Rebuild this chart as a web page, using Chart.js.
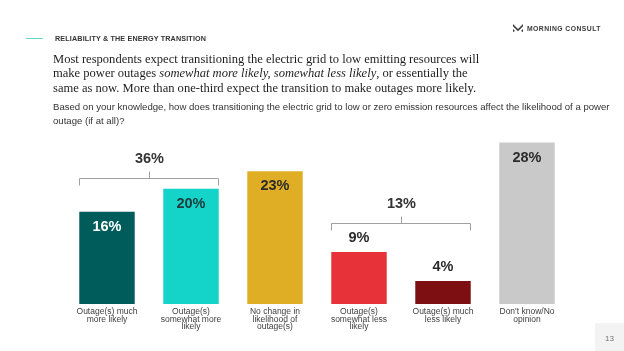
<!DOCTYPE html>
<html>
<head>
<meta charset="utf-8">
<script src="https://cdn.jsdelivr.net/npm/chart.js@4"></script>
<style>
  html, body { margin: 0; padding: 0; background: #fff; }
  #page { position: relative; width: 624px; height: 351px; overflow: hidden; font-family: "Liberation Sans", Arial, sans-serif; }
  #chart { position: absolute; left: 0; top: 0; }
  .rule { position: absolute; left: 26px; top: 38px; width: 17px; height: 1px; background: #5fd6d0; }
  .section { position: absolute; left: 55px; top: 34px; font-size: 7.2px; font-weight: bold; color: #333; letter-spacing: 0.15px; }
  .logo { position: absolute; left: 513px; top: 24px; font-size: 6.8px; font-weight: bold; color: #3a3a3a; letter-spacing: 0.45px; display: flex; align-items: center; }
  .logo svg { margin-right: 4px; }
  .title { position: absolute; left: 53px; top: 52px; font-family: "Liberation Serif", serif; font-size: 12.55px; line-height: 14.4px; color: #1e1e1e; white-space: nowrap; }
  .subtitle { position: absolute; left: 53px; top: 100px; font-size: 9.6px; line-height: 14.4px; color: #333; width: 566px; }
  .pagebox { position: absolute; left: 595px; top: 323px; width: 29px; height: 28px; background: #f3f3f3; color: #777; font-size: 8px; text-align: center; line-height: 32px; }
</style>
</head>
<body>
<div id="page">
  <canvas id="chart" width="624" height="351"></canvas>
  <div class="rule"></div>
  <div class="section">RELIABILITY &amp; THE ENERGY TRANSITION</div>
  <div class="logo"><svg width="10" height="8" viewBox="0 0 10 8"><path d="M0 0 L5 5 L10 0 L10 2.2 L5 7.2 L0 2.2 Z M0 5 L2 7 L0 8 Z M10 5 L8 7 L10 8 Z" fill="#3a3a3a"/></svg>MORNING CONSULT</div>
  <div class="title">Most respondents expect transitioning the electric grid to low emitting resources will<br>make power outages <i>somewhat more likely, somewhat less likely</i>, or essentially the<br>same as now. More than one-third expect the transition to make outages more likely.</div>
  <div class="subtitle">Based on your knowledge, how does transitioning the electric grid to low or zero emission resources affect the likelihood of a power outage (if at all)?</div>
  <div class="pagebox">13</div>
</div>
<script>
let chart = null;

const categories = [
    ["Outage(s) much", "more likely"],
    ["Outage(s)", "somewhat more", "likely"],
    ["No change in", "likelihood of", "outage(s)"],
    ["Outage(s)", "somewhat less", "likely"],
    ["Outage(s) much", "less likely"],
    ["Don't know/No", "opinion"],
];
const values = [16, 20, 23, 9, 4, 28];
const barColors = ["#005b5b", "#14d3c9", "#e0ae25", "#e63238", "#7d0f12", "#c9c9c9"];
const labelColors = ["#ffffff", "#1f3a3a", "#2b2b2b", "#2b2b2b", "#2b2b2b", "#2b2b2b"];
const labelInside = [true, true, true, false, false, true];

const bracketSpans = [[0, 1], [3, 4]];
const bracketLabels = ["36%", "13%"];

// draws % labels, brackets and category names using the scales
const annotatePlugin = {
    id: "annotate",
    afterDatasetsDraw(c, args, opts) {
        const ctx = c.ctx;
        const x = c.scales.x;
        const y = c.scales.y;
        const meta = c.getDatasetMeta(0);

        ctx.save();
        ctx.textAlign = "center";
        ctx.textBaseline = "middle";

        // value labels
        ctx.font = "bold 14.5px 'Liberation Sans', Arial, sans-serif";
        meta.data.forEach((bar, i) => {
            const top = y.getPixelForValue(values[i]);
            const ly = labelInside[i] ? top + 15 : top - 14;
            ctx.fillStyle = labelColors[i];
            ctx.fillText(values[i] + "%", bar.x, ly);
        });

        // brackets
        ctx.strokeStyle = "#a0a0a0";
        ctx.lineWidth = 1;
        bracketSpans.forEach((span, i) => {
            const b0 = meta.data[span[0]];
            const b1 = meta.data[span[1]];
            const left = Math.round(b0.x - b0.width / 2) + 0.5;
            const right = Math.round(b1.x + b1.width / 2) - 0.5;
            const by = Math.round(y.getPixelForValue(opts.levels[i])) + 0.5;
            const mid = Math.round((left + right) / 2) + 0.5;
            ctx.beginPath();
            ctx.moveTo(left, by + 7);
            ctx.lineTo(left, by);
            ctx.lineTo(right, by);
            ctx.lineTo(right, by + 7);
            ctx.moveTo(mid, by);
            ctx.lineTo(mid, by - 7);
            ctx.stroke();
            ctx.fillStyle = "#333";
            ctx.fillText(bracketLabels[i], mid, by - 20);
        });

        // category names
        ctx.font = "8.5px 'Liberation Sans', Arial, sans-serif";
        ctx.fillStyle = "#404040";
        categories.forEach((lines, i) => {
            const cx = x.getPixelForValue(i);
            lines.forEach((line, j) => {
                ctx.fillText(line, cx, y.bottom + 7.5 + j * 7.8);
            });
        });
        ctx.restore();
    },
};

function renderChart() {
    const canvas = document.getElementById("chart");
    const ctx = canvas.getContext("2d");

    chart = new Chart(ctx, {
        type: "bar",
        data: {
            labels: categories.map((l) => l.join(" ")),
            datasets: [{
                data: values,
                backgroundColor: barColors,
                borderWidth: 0,
                categoryPercentage: 0.66,
                barPercentage: 1,
            }],
        },
        options: {
            responsive: false,
            animation: false,
            layout: {
                padding: { left: 65, right: 55, top: 131, bottom: 47 },
            },
            scales: {
                x: { display: false },
                y: { display: false, min: 0, max: 30 },
            },
            plugins: {
                legend: { display: false },
                tooltip: { enabled: false },
                annotate: { levels: [21.85, 14.1] },
            },
        },
        plugins: [annotatePlugin],
    });
}

renderChart();
</script>
</body>
</html>
